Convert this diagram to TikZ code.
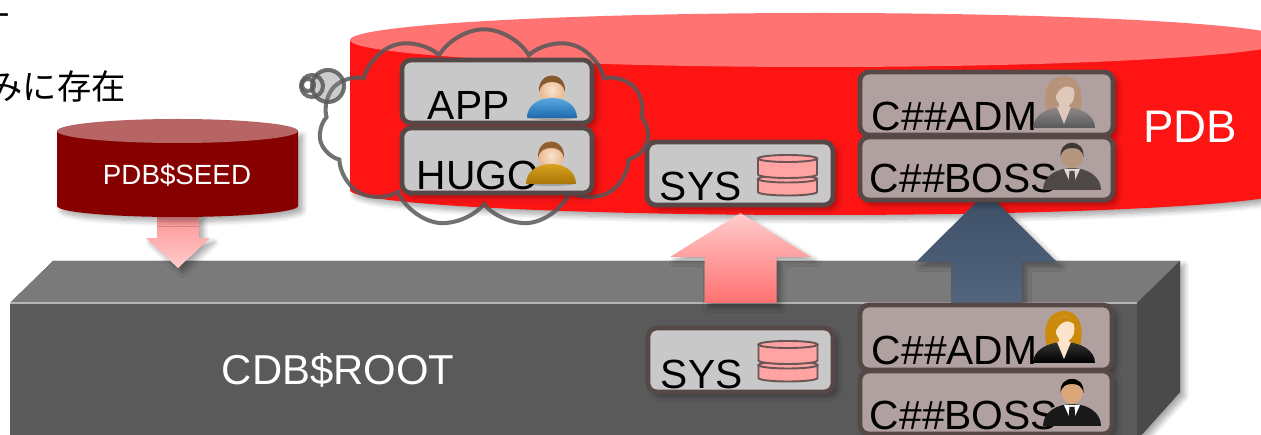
\documentclass[tikz,border=0pt]{standalone}
\usepackage{fontspec}
\setmainfont{Liberation Sans}
\newfontfamily\jpfont{Noto Sans CJK JP}
\usetikzlibrary{calc,fit,shapes.symbols,shadows.blur}

\definecolor{pdbtop}{HTML}{FF7373}
\definecolor{pdbbody}{HTML}{FF1414}
\definecolor{seedtop}{HTML}{B76464}
\definecolor{seedbody}{HTML}{870000}
\definecolor{roottop}{HTML}{7A7A7A}
\definecolor{rootfront}{HTML}{5A5A5A}
\definecolor{rootside}{HTML}{4A4A4A}
\definecolor{boxgrey}{HTML}{C8C8C8}
\definecolor{boxmauve}{HTML}{B0A0A0}
\definecolor{boxline}{HTML}{574848}
\definecolor{cloudline}{HTML}{585858}
\definecolor{dbfill}{HTML}{FFA3A3}
\definecolor{dbline}{HTML}{6B5555}
\definecolor{pinktop}{HTML}{FFCCCC}
\definecolor{pinkbot}{HTML}{FF7070}
\definecolor{slatetop}{HTML}{3C4F67}
\definecolor{slatebot}{HTML}{52657D}
\definecolor{skinhi}{HTML}{FBE3CC}
\definecolor{skinlo}{HTML}{E8B890}
\definecolor{shirtblue}{HTML}{5AA8E0}
\definecolor{shirtblued}{HTML}{1E68AC}
\definecolor{shirtgold}{HTML}{D9A21E}
\definecolor{shirtgoldd}{HTML}{A87406}
\definecolor{hairgold}{HTML}{CC8A0C}

% vertical block arrow: from, to, shaft half width, head half width, head length, style
\newcommand\blockarrow[6]{%
  \coordinate (hb) at ($(#2)!#5!(#1)$);
  \path[#6] ($(#1)!#3!90:(#2)$) -- ($(hb)!#3!90:(#2)$) -- ($(hb)!#4!90:(#2)$)
    -- (#2) -- ($(hb)!#4!-90:(#2)$) -- ($(hb)!#3!-90:(#2)$) -- ($(#1)!#3!-90:(#2)$) -- cycle;}

% two stacked disks, given the top centre
\newcommand\dbicon[2]{%
  \begin{scope}[shift={(#1,#2)}]
    \path[dbpart] (-29.5,24) -- (-29.5,37) arc[start angle=180,end angle=0,x radius=29.5,y radius=3.5] -- (29.5,24) -- cycle;
    \path[dbpart] (0,24) ellipse[x radius=29.5,y radius=3.5];
    \path[dbpart] (-29.5,3.5) -- (-29.5,19.5) arc[start angle=180,end angle=0,x radius=29.5,y radius=3.5] -- (29.5,3.5) -- cycle;
    \path[dbpart] (0,3.5) ellipse[x radius=29.5,y radius=3.5];
  \end{scope}}

% young man: centre x, bottom y, hair, shirt top, shirt bottom
\newcommand\maleicon[5]{%
  \begin{scope}[shift={(#1,#2)}]
    \fill[black,opacity=.2] (0,-1) ellipse[x radius=25,y radius=3];
    \shade[inner color=skinhi, outer color=skinlo] (0,-28) ellipse[x radius=12.5,y radius=14.5];
    \fill[#3] (-13,-26) .. controls (-14.5,-48) and (14.5,-48) .. (13,-26)
      .. controls (11.5,-33) and (7,-36) .. (0,-36) .. controls (-7,-36) and (-11.5,-33) .. (-13,-26) -- cycle;
    \shade[top color=#4, bottom color=#5] (-25,0) .. controls (-25,-13) and (-13,-20) .. (0,-20)
      .. controls (13,-20) and (25,-13) .. (25,0) -- cycle;
  \end{scope}}

% woman in a suit: centre x, bottom y, hair, suit top, suit bottom, skin
\newcommand\womanicon[6]{%
  \begin{scope}[shift={(#1,#2)}]
    \fill[#3] (-17,-16) .. controls (-23,-38) and (-14,-52) .. (0,-52)
      .. controls (14,-52) and (21,-38) .. (16,-16) -- cycle;
    \shade[top color=#4, bottom color=#5] (-31,0) .. controls (-31,-13) and (-16,-21) .. (0,-21)
      .. controls (16,-21) and (31,-13) .. (31,0) -- cycle;
    \fill[#6] (-7,-21) -- (0,-4) -- (7,-21) -- cycle;
    \fill[#6] (-5,-27) rectangle (5,-19);
    \fill[#6] (1,-34) ellipse[x radius=9.5,y radius=12.5];
    \fill[#3] (-10,-28) .. controls (-12,-48) and (6,-52) .. (11,-38)
      .. controls (4,-45) and (-5,-42) .. (-10,-28) -- cycle;
  \end{scope}}

% man in a suit: centre x, bottom y, hair, suit, skin, shirt
\newcommand\bossicon[6]{%
  \begin{scope}[shift={(#1,#2)}]
    \fill[#4] (-29,0) .. controls (-29,-14) and (-15,-22) .. (0,-22)
      .. controls (15,-22) and (29,-14) .. (29,0) -- cycle;
    \fill[#6] (-8,-21) -- (0,-3) -- (8,-21) -- cycle;
    \fill[#4] (-2.5,-19) -- (2.5,-19) -- (3.5,-6) -- (0,-2) -- (-3.5,-6) -- cycle;
    \fill[#5] (0,-35) ellipse[x radius=11,y radius=13];
    \fill[#3] (-11.5,-33) .. controls (-13,-52) and (13,-52) .. (11.5,-33)
      .. controls (10,-40) and (6,-42) .. (0,-42) .. controls (-6,-42) and (-10,-40) .. (-11.5,-33) -- cycle;
  \end{scope}}

\begin{document}
\begin{tikzpicture}[x=0.02cm,y=-0.02cm,
  softshadow/.style={blur shadow={shadow xshift=2.5pt,shadow yshift=-2.5pt,shadow blur radius=3pt,shadow blur steps=8,shadow opacity=35}},
  ubox/.style={draw=boxline,line width=2.7pt,rounded corners=0.18cm,inner sep=0pt,softshadow},
  lbl/.style={inner sep=0pt,anchor=base west,font=\fontsize{23.2}{26}\selectfont},
  dbpart/.style={draw=dbline,fill=dbfill,line width=1.1pt},
  thought/.style={draw=cloudline,line width=2.3pt,draw opacity=.85}]
\useasboundingbox (0,0) rectangle (1261,435);

% heading text, cut at the left edge
\node[anchor=base east,inner sep=0pt,font=\jpfont\fontsize{17}{20}\selectfont] (head1) at (12,27) {ー};
\node[anchor=base east,inner sep=0pt,font=\jpfont\fontsize{19.5}{23}\selectfont] (head2) at (126,100) {のみに存在};

% PDB cylinder
\path[fill=pdbbody,softshadow] (350,40) -- (350,190) arc[start angle=180,end angle=0,x radius=470,y radius=25] -- (1290,40) -- cycle;
\fill[pdbtop] (820,40) ellipse[x radius=470,y radius=27];
\node[anchor=base,inner sep=0pt,white,font=\fontsize{26}{30}\selectfont] (pdb) at (1190,143) {PDB};

% CDB$ROOT block
\coordinate (rootedge) at (10,303);
\path[fill=rootfront,softshadow] (10,303) -- (53,261) -- (1180,261) -- (1180,392) -- (1137,440) -- (10,440) -- cycle;
\fill[roottop] (10,303) -- (53,261) -- (1180,261) -- (1137,303) -- cycle;
\fill[rootside] (1137,303) -- (1180,261) -- (1180,392) -- (1137,440) -- cycle;
\draw[white!55!rootfront,line width=.6pt] (10,303) -- (1137,303);
\node[anchor=base,inner sep=0pt,white,font=\fontsize{23.8}{28}\selectfont] (root) at (338,385) {CDB\$ROOT};

% arrow ends: seed into the root, root users up into the PDB
\coordinate (seedbot) at (178,214);
\coordinate (seedto) at (178,268);
\coordinate (sysfoot) at (740.5,303);
\coordinate (systip) at (740.5,213);
\coordinate (comfoot) at (986.5,303);
\coordinate (comtip) at (986.5,192);
\blockarrow{seedbot}{seedto}{0.42cm}{0.64cm}{0.6cm}{top color=pinkbot!75!white,bottom color=pinktop,softshadow}
\blockarrow{sysfoot}{systip}{0.72cm}{1.41cm}{0.88cm}{top color=pinktop,bottom color=pinkbot,softshadow}
\blockarrow{comfoot}{comtip}{0.71cm}{1.41cm}{1.4cm}{top color=slatetop,bottom color=slatebot,softshadow}

% PDB$SEED cylinder
\path[fill=seedbody,softshadow] (57,131) -- (57,206) arc[start angle=180,end angle=0,x radius=120.5,y radius=11] -- (298,131) -- cycle;
\fill[seedtop] (177.5,131) ellipse[x radius=120.5,y radius=12];
\node[anchor=base,inner sep=0pt,white,font=\fontsize{15.8}{18}\selectfont] (seed) at (177,185) {PDB\$SEED};

% user boxes
\node[ubox,fill=boxgrey,fit={(647,142) (833,205)}] (syspdb) {};
\node[ubox,fill=boxmauve,fit={(860,72) (1113,135)}] (admp) {};
\node[ubox,fill=boxmauve,fit={(860,137) (1113,200)}] (bossp) {};
\node[ubox,fill=boxgrey,fit={(648,328) (833,392)}] (sysr) {};
\node[ubox,fill=boxmauve,fit={(860,305) (1112,370)}] (admr) {};
\node[ubox,fill=boxmauve,fit={(860,371) (1112,434)}] (bossr) {};

% local users inside a thought bubble
\node[cloud,cloud puffs=11,cloud puff arc=120,cloud ignores aspect,thought,minimum width=6.6cm,minimum height=3.95cm] (bubble) at (484,128) {};
\draw[thought,fill=gray,fill opacity=.4] (328,86) circle[radius=16];
\draw[thought] (312,86) circle[radius=11];
\draw[thought] (308,85) circle[radius=6];
\node[ubox,fill=boxgrey,fit={(402,60) (592,123)}] (app) {};
\node[ubox,fill=boxgrey,fit={(402,128) (592,193)}] (hugo) {};

% labels
\node[lbl] (appt) at ($(app.south west)+(28,-6)$) {APP};
\node[lbl] (hugot) at ($(hugo.south west)+(17,-6)$) {HUGO};
\node[lbl] (syspt) at ($(syspdb.south west)+(15,-7)$) {SYS};
\node[lbl] (admpt) at ($(admp.south west)+(14,-7)$) {C\#\#ADM};
\node[lbl] (bosspt) at ($(bossp.south west)+(12,-10)$) {C\#\#BOSS};
\node[lbl] (sysrt) at ($(sysr.south west)+(15,-6)$) {SYS};
\node[lbl] (admrt) at ($(admr.south west)+(14,-8)$) {C\#\#ADM};
\node[lbl] (bossrt) at ($(bossr.south west)+(12,-7)$) {C\#\#BOSS};

% icons
\maleicon{552}{118}{brown!70!black}{shirtblue}{shirtblued}
\maleicon{551}{184}{brown!75!black}{shirtgold}{shirtgoldd}
\dbicon{787.5}{155}
\dbicon{788}{341}
\womanicon{1064}{128}{brown!40!boxmauve}{gray!70!boxmauve}{gray!70!black}{skinhi!60!boxmauve}
\bossicon{1072}{190}{black!65!boxmauve}{black!55!boxmauve}{brown!35!boxmauve}{white!60!boxmauve}
\womanicon{1064}{363}{hairgold}{black!80}{black}{skinhi}
\bossicon{1072}{426}{black}{black!90}{brown!30!skinlo}{white}
\end{tikzpicture}
\end{document}
